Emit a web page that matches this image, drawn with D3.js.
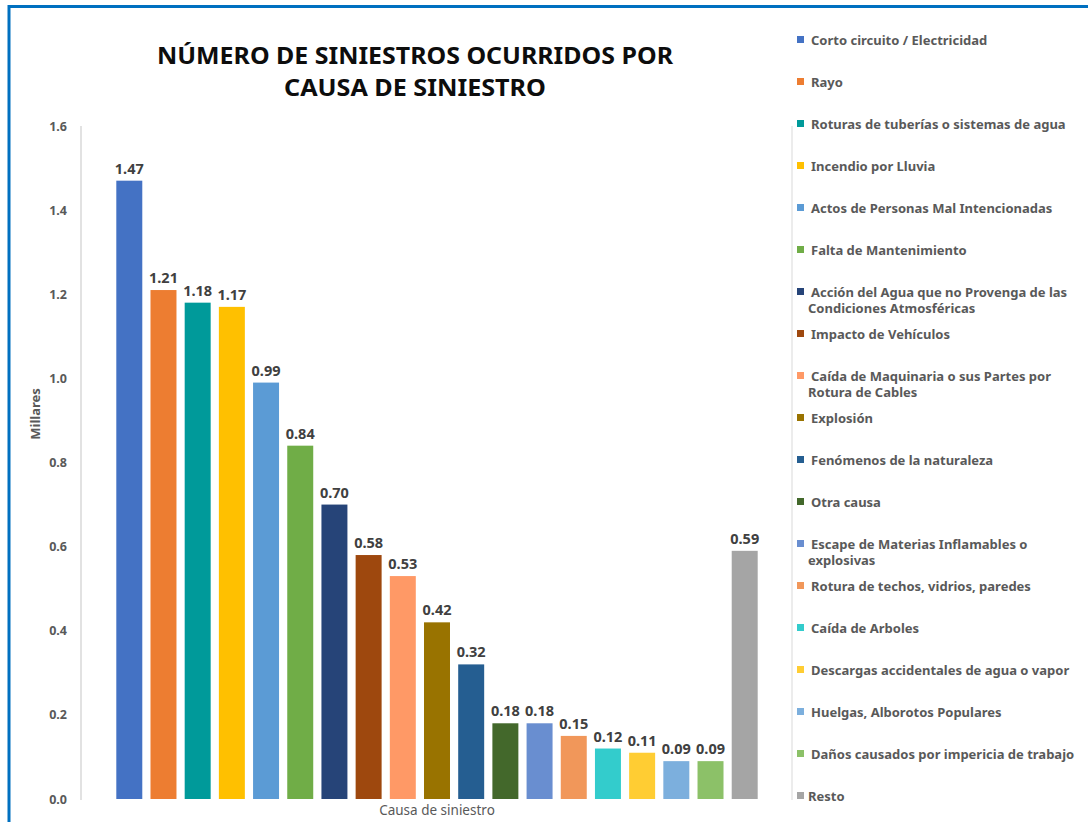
<!DOCTYPE html>
<html><head><meta charset="utf-8">
<script src="https://cdn.jsdelivr.net/npm/d3@7"></script>
<style>
html,body{margin:0;padding:0;background:#fff;}
svg text{font-family:"Noto Sans","DejaVu Sans",sans-serif;}
</style></head>
<body>
<svg id="chart" width="1088" height="822"></svg>
<script>
const categories = [
  "Corto circuito / Electricidad",
  "Rayo",
  "Roturas de tuberías o sistemas de agua",
  "Incendio por Lluvia",
  "Actos de Personas Mal Intencionadas",
  "Falta de Mantenimiento",
  "Acción del Agua que no Provenga de las|Condiciones Atmosféricas",
  "Impacto de Vehículos",
  "Caída de Maquinaria o sus Partes por|Rotura de Cables",
  "Explosión",
  "Fenómenos de la naturaleza",
  "Otra causa",
  "Escape de Materias Inflamables o|explosivas",
  "Rotura de techos, vidrios, paredes",
  "Caída de Arboles",
  "Descargas accidentales de agua o vapor",
  "Huelgas, Alborotos Populares",
  "Daños causados por impericia de trabajo",
  "Resto"
];
const values = [1.47,1.21,1.18,1.17,0.99,0.84,0.70,0.58,0.53,0.42,0.32,0.18,0.18,0.15,0.12,0.11,0.09,0.09,0.59];
const colors = ["#4472C4","#ED7D31","#009A9A","#FFC000","#5B9BD5","#70AD47","#264478","#9E480E","#FF9966","#997300","#255E91","#43682B","#698ED0","#F1975A","#33CCCC","#FFCD33","#7CAFDD","#8CC168","#A5A5A5"];
const yTicks = [0,0.2,0.4,0.6,0.8,1.0,1.2,1.4,1.6];
const titleLines = ["NÚMERO DE SINIESTROS OCURRIDOS POR","CAUSA DE SINIESTRO"];
const yTitle = "Millares";
const xTitle = "Causa de siniestro";

const svg = d3.select("#chart");
// border
svg.append("rect").attr("x",9).attr("y",6.5).attr("width",1090).attr("height",830)
  .attr("fill","none").attr("stroke","#0070C0").attr("stroke-width",3);

const x = d3.scaleBand().domain(d3.range(categories.length)).range([112.2,761.8])
  .paddingInner(0.24).paddingOuter(0.12);
const y = d3.scaleLinear().domain([0,1.6]).range([799,126]);

// title
svg.append("g").selectAll("text").data(titleLines).join("text")
  .attr("x",415).attr("y",(d,i)=>64+i*32).attr("text-anchor","middle")
  .attr("font-size",24).attr("font-weight","bold").attr("fill","#0d0d0d")
  .attr("textLength",(d,i)=>i===0?516:262).attr("lengthAdjust","spacingAndGlyphs")
  .text(d=>d);

// axis lines
svg.append("line").attr("x1",81).attr("x2",81).attr("y1",y(1.6)).attr("y2",y(0)+1)
  .attr("stroke","#D9D9D9").attr("stroke-width",1.5);
svg.append("line").attr("x1",792).attr("x2",792).attr("y1",y(1.6)).attr("y2",y(0)+1)
  .attr("stroke","#E6E6E6").attr("stroke-width",1.5);

const yAxis = d3.axisLeft(y).tickValues(yTicks).tickFormat(d3.format(".1f")).tickSize(0).tickPadding(0);
const ga = svg.append("g").attr("transform","translate(67,0)").call(yAxis);
ga.select(".domain").remove();
ga.selectAll("text").attr("font-size",12.5).attr("font-weight","bold").attr("fill","#595959")
  .style("font-family","'Noto Sans','DejaVu Sans',sans-serif");

// axis titles
svg.append("text").attr("transform","translate(40,414) rotate(-90)").attr("text-anchor","middle")
  .attr("font-size",13).attr("font-weight","bold").attr("fill","#595959").text(yTitle);
svg.append("text").attr("x",437).attr("y",815).attr("text-anchor","middle")
  .attr("font-size",13.5).attr("fill","#595959").text(xTitle);

// bars
svg.append("g").selectAll("rect").data(values).join("rect")
  .attr("x",(d,i)=>x(i)).attr("width",x.bandwidth())
  .attr("y",d=>y(d)).attr("height",d=>y(0)-y(d))
  .attr("fill",(d,i)=>colors[i]);

// value labels
svg.append("g").selectAll("text").data(values).join("text")
  .attr("x",(d,i)=>x(i)+x.bandwidth()/2).attr("y",d=>y(d)-7)
  .attr("text-anchor","middle").attr("font-size",14.5).attr("font-weight","bold").attr("fill","#404040")
  .text(d=>d.toFixed(2));

// legend
const lg = svg.append("g");
const items = lg.selectAll("g").data(categories).join("g")
  .attr("transform",(d,i)=>`translate(797,${40+i*42})`);
items.append("rect").attr("x",0).attr("y",-4).attr("width",7).attr("height",7)
  .attr("fill",(d,i)=>colors[i]);
items.each(function(d,i){
  const parts = d.split("|");
  const g = d3.select(this);
  parts.forEach((p,j)=>{
    g.append("text").attr("x", j===0 ? (i===categories.length-1 ? 11 : 14) : 11)
      .attr("y", 4.5 + j*16).attr("font-size",13).attr("font-weight","bold")
      .attr("fill","#595959").text(p);
  });
});
</script>
</body></html>
